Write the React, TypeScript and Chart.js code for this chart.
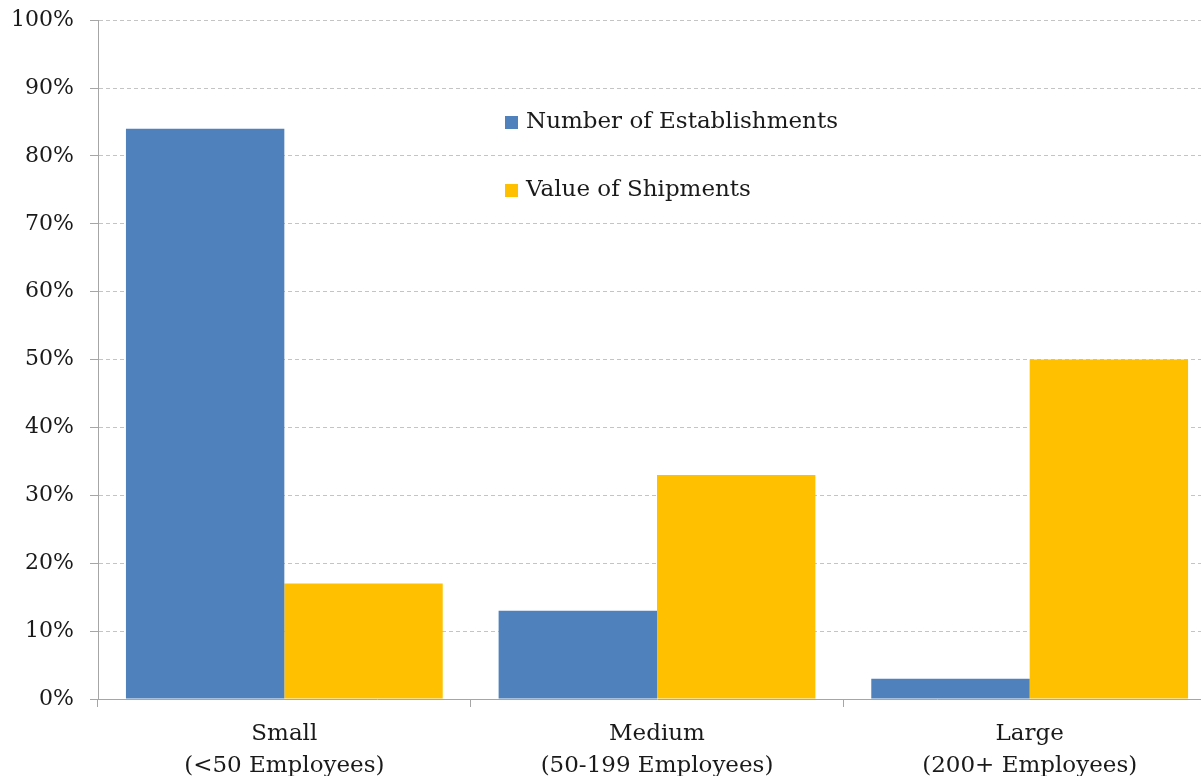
import React, { useEffect, useRef } from "react";
import { Chart, registerables } from "chart.js";

Chart.register(...registerables);

const categories: string[][] = [
  ["Small", "(<50 Employees)"],
  ["Medium", "(50-199 Employees)"],
  ["Large", "(200+ Employees)"],
];
const establishments: number[] = [84, 13, 3];
const shipments: number[] = [17, 33, 50];
const seriesNames: string[] = ["Number of Establishments", "Value of Shipments"];
const seriesColors: string[] = ["#4F81BD", "#FFC000"];

const FONT = "'DejaVu Serif', Georgia, serif";
const TEXT = "#1a1a1a";
const AXIS = "#A6A6A6";

// Two-row legend drawn inside the plot area
const insideLegend = {
  id: "insideLegend",
  afterDraw(chart: Chart) {
    const ctx = chart.ctx;
    ctx.save();
    ctx.font = `23px ${FONT}`;
    ctx.textBaseline = "middle";
    ctx.textAlign = "left";
    const x0 = 505;
    const rows = [131, 199];
    chart.data.datasets.forEach((ds, i) => {
      const y = rows[i];
      ctx.fillStyle = ds.backgroundColor as string;
      ctx.fillRect(x0, y - 6, 13, 13);
      ctx.fillStyle = TEXT;
      ctx.fillText(ds.label as string, x0 + 21, y);
    });
    ctx.restore();
  },
};

export default function App() {
  const ref = useRef<HTMLCanvasElement | null>(null);

  useEffect(() => {
    if (!ref.current) return;
    const chart = new Chart(ref.current, {
      type: "bar",
      data: {
        labels: categories,
        datasets: [
          {
            label: seriesNames[0],
            data: establishments,
            backgroundColor: seriesColors[0],
            barPercentage: 1,
            categoryPercentage: 0.85,
          },
          {
            label: seriesNames[1],
            data: shipments,
            backgroundColor: seriesColors[1],
            barPercentage: 1,
            categoryPercentage: 0.85,
          },
        ],
      },
      options: {
        animation: false,
        responsive: false,
        maintainAspectRatio: false,
        layout: { padding: { top: 12, right: 0, left: 0, bottom: 0 } },
        plugins: {
          legend: { display: false },
          tooltip: { enabled: false },
        },
        scales: {
          x: {
            grid: {
              display: true,
              drawOnChartArea: false,
              offset: true,
              tickLength: 8,
              color: AXIS,
            },
            border: { color: AXIS, width: 1 },
            ticks: {
              color: TEXT,
              font: { family: FONT, size: 23, lineHeight: 1.38 },
              padding: 11,
              maxRotation: 0,
            },
            afterFit(scale: any) {
              scale.height = 77;
            },
          },
          y: {
            min: 0,
            max: 100,
            grid: {
              color: "#C4C4C4",
              tickBorderDash: [],
              tickColor: AXIS,
              tickLength: 8,
            },
            border: { color: AXIS, width: 1, dash: [4, 3] },
            ticks: {
              stepSize: 10,
              color: TEXT,
              font: { family: FONT, size: 22 },
              padding: 16,
              callback: (v: any) => `${v}%`,
            },
            afterFit(scale: any) {
              scale.width = 98;
            },
          },
        },
      },
      plugins: [insideLegend],
    });
    return () => chart.destroy();
  }, []);

  return (
    <div
      style={{
        position: "absolute",
        left: 0,
        top: 0,
        width: 1201,
        height: 776,
        overflow: "hidden",
        background: "#fff",
      }}
    >
      <canvas
        ref={ref}
        width={1216}
        height={785}
        style={{ display: "block", marginTop: -9 }}
      />
    </div>
  );
}
